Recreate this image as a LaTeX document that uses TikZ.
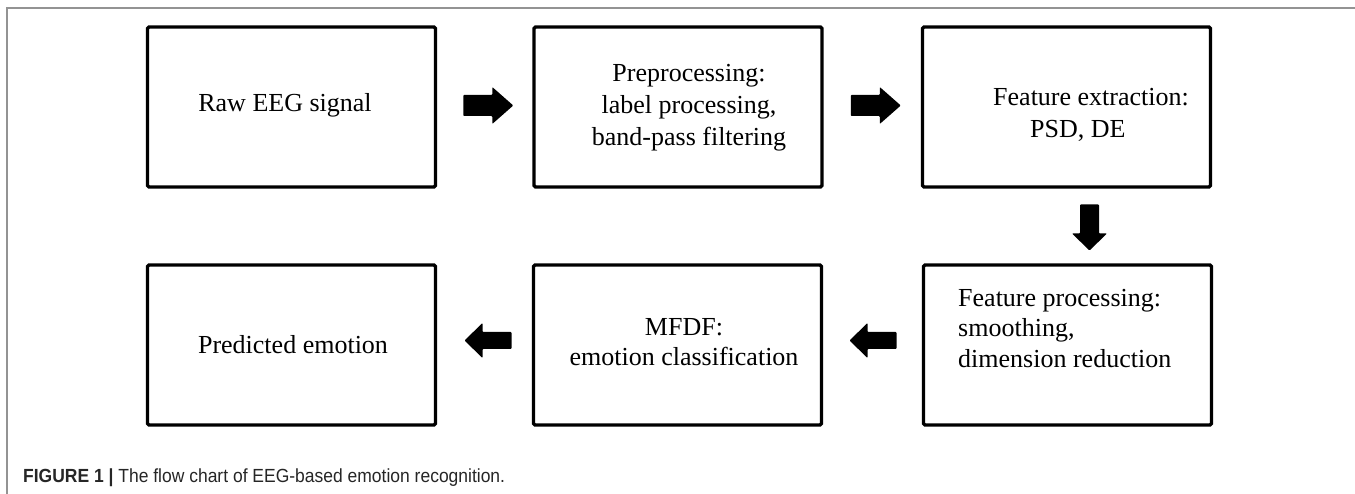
\documentclass[tikz,border=0pt]{standalone}
\usepackage{fontspec}
\setmainfont{Liberation Serif}
\newfontfamily\capfont[FakeStretch=0.92]{Liberation Sans}
\usetikzlibrary{calc}
\begin{document}
\begin{tikzpicture}[x=1pt,y=-1pt,
  box/.style={draw=black, line width=3.3pt, rounded corners=1.5pt, minimum width=288pt, minimum height=160pt, inner sep=0pt},
  txt/.style={anchor=base, inner sep=0pt, font=\fontsize{26}{31}\selectfont},
  ltxt/.style={txt, anchor=base west},
  blk/.style={fill=black, rounded corners=0.8pt},
  rarr/.pic={\fill[blk] (-25,-10.5) -- (4,-10.5) -- (4,-18.5) -- (25,0) -- (4,18.5) -- (4,10.5) -- (-25,10.5) -- cycle;},
  larr/.pic={\fill[blk] (23.5,-8.5) -- (-5.5,-8.5) -- (-5.5,-17.5) -- (-23.5,0) -- (-5.5,17.5) -- (-5.5,8.5) -- (23.5,8.5) -- cycle;},
  darr/.pic={\fill[blk] (-9.5,-23) -- (-9.5,6) -- (-17.5,6) -- (0,23) -- (17.5,6) -- (9.5,6) -- (9.5,-23) -- cycle;}]
\useasboundingbox (0,0) rectangle (1355,494);
\fill[white] (0,0) rectangle (1355,494);
% frame
\draw[gray!85, line width=1.4pt] (7,494) -- (7,8) -- (1355,8);
% boxes
\node[box] (b1) at (291.5,107) {};
\node[box] (b2) at (678,107) {};
\node[box] (b3) at (1066.5,107) {};
\node[box] (b4) at (291.5,345) {};
\node[box] (b5) at (677.5,345) {};
\node[box] (b6) at (1067.5,345) {};
% texts
\node[txt] (t1) at (285,112) {Raw EEG signal};
\node[txt] (t2a) at (689,82) {Preprocessing:};
\node[txt] (t2b) at (689,114) {label processing,};
\node[txt] (t2c) at (689,146) {band-pass filtering};
\node[ltxt] (t3a) at (993,106) {Feature extraction:};
\node[ltxt] (t3b) at (1030,138) {PSD, DE};
\node[ltxt] (t6a) at (958,307) {Feature processing:};
\node[ltxt] (t6b) at (958,337) {smoothing,};
\node[ltxt] (t6c) at (958,367) {dimension reduction};
\node[txt] (t5a) at (684,336) {MFDF:};
\node[txt] (t5b) at (684,366) {emotion classification};
\node[txt] (t4) at (293,354) {Predicted emotion};
% arrows
\pic at ($(b1.east)!0.5!(b2.west)+(3.5,-1.5)$) {rarr};
\pic at ($(b2.east)!0.5!(b3.west)+(3.5,-1.5)$) {rarr};
\pic at ($(b3.south)!0.5!(b6.north)+(22.5,1.5)$) {darr};
\pic at ($(b6.west)!0.5!(b5.east)+(0.5,-4.5)$) {larr};
\pic at ($(b5.west)!0.5!(b4.east)+(3.5,-4.5)$) {larr};
% caption
\node[anchor=base west, inner sep=0pt, text=black!85, font=\capfont\fontsize{19}{22}\selectfont] (cap) at (23,482) {\textbf{FIGURE 1 |} The flow chart of EEG-based emotion recognition.};
\end{tikzpicture}
\end{document}
